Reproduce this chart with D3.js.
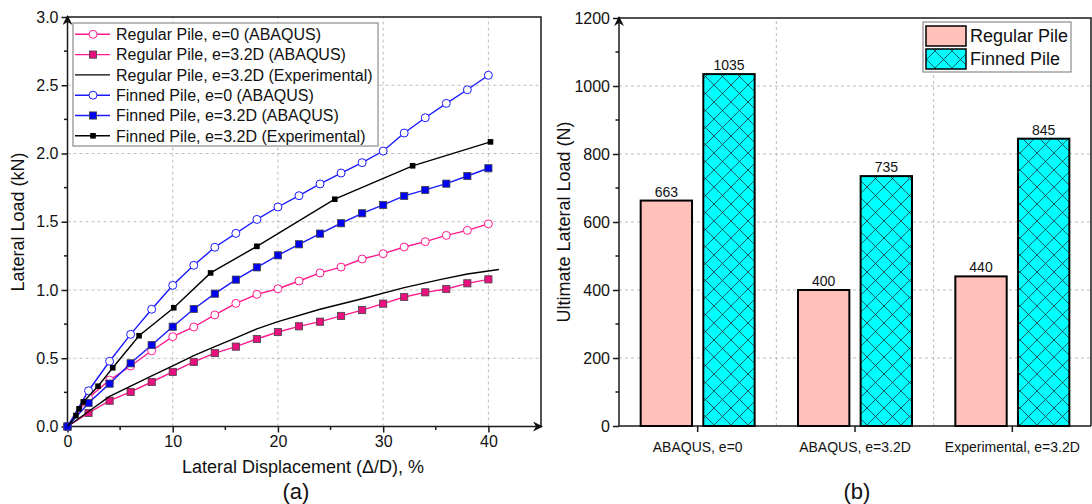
<!DOCTYPE html>
<html><head><meta charset="utf-8">
<script src="https://cdn.jsdelivr.net/npm/d3@7"></script>
<style>body{margin:0;background:#fff} svg{display:block;font-family:"Liberation Sans",Arial,sans-serif}</style>
</head><body><svg id="c" width="1092" height="504"></svg>
<script>
// ---------- data (a) ----------
const dispAbaqus = [0,2,4,6,8,10,12,14,16,18,20,22,24,26,28,30,32,34,36,38,40];
const regularE0 = [0,0.21,0.34,0.443,0.555,0.658,0.729,0.817,0.902,0.968,1.009,1.066,1.125,1.168,1.227,1.266,1.315,1.354,1.40,1.437,1.484];
const regularE32 = [0,0.099,0.189,0.253,0.326,0.40,0.473,0.538,0.585,0.641,0.692,0.734,0.768,0.81,0.853,0.90,0.949,0.983,1.007,1.049,1.078];
const regularExpDisp = [0,2,4,6,8,10,12,14,16,18,20,24,28,32,35.5,38,41];
const regularExpLoad = [0,0.11,0.22,0.295,0.37,0.445,0.52,0.585,0.65,0.715,0.768,0.859,0.936,1.017,1.078,1.117,1.15];
const finnedE0 = [0,0.262,0.478,0.675,0.859,1.034,1.181,1.313,1.415,1.517,1.608,1.691,1.777,1.857,1.933,2.018,2.150,2.262,2.367,2.467,2.573];
const finnedE32 = [0,0.172,0.314,0.463,0.597,0.731,0.861,0.973,1.076,1.166,1.254,1.335,1.413,1.489,1.562,1.623,1.689,1.733,1.779,1.835,1.892];
const finnedExpDisp = [0,0.8,1.1,1.5,2.9,4.3,6.8,10.1,13.6,18.0,25.4,32.8,40.2];
const finnedExpLoad = [0,0.08,0.13,0.18,0.295,0.43,0.665,0.87,1.125,1.32,1.665,1.91,2.085];
const xTicksA = [0,10,20,30,40];
const yTicksA = [0,0.5,1.0,1.5,2.0,2.5,3.0];
// ---------- data (b) ----------
const categories = ["ABAQUS, e=0","ABAQUS, e=3.2D","Experimental, e=3.2D"];
const regularUlt = [663,400,440];
const finnedUlt = [1035,735,845];
const yTicksB = [0,200,400,600,800,1000,1200];

const svg = d3.select("#c");
const defs = svg.append("defs");
const pat = defs.append("pattern").attr("id","xh").attr("patternUnits","userSpaceOnUse")
  .attr("width",17).attr("height",17);
pat.append("rect").attr("width",17).attr("height",17).attr("fill","#00ffff");
pat.append("path").attr("d","M0,0L17,17M17,0L0,17M-1,16L1,18M16,-1L18,1").attr("stroke","#222").attr("stroke-width",0.7);
defs.append("marker").attr("id","arr").attr("viewBox","0 0 10 10").attr("refX",9).attr("refY",5)
  .attr("markerWidth",10).attr("markerHeight",10).attr("markerUnits","userSpaceOnUse").attr("orient","auto")
  .append("path").attr("d","M0,0L10,5L0,10L3,5Z").attr("fill","#111");

const AX = "#1a1a1a";
function grid(g, x1,y1,x2,y2){ g.append("line").attr("x1",x1).attr("y1",y1).attr("x2",x2).attr("y2",y2)
  .attr("stroke","#bdbdbd").attr("stroke-dasharray","3,3").attr("stroke-width",1); }

// ================= (a) =================
const xA = d3.scaleLinear().domain([0,45]).range([67.5,541]);
const yA = d3.scaleLinear().domain([0,3]).range([426.5,17]);
const gA = svg.append("g");
xTicksA.slice(1).forEach(t=>grid(gA,xA(t),yA(0),xA(t),yA(3)));
yTicksA.slice(1,-1).forEach(t=>grid(gA,xA(0),yA(t),xA(45),yA(t)));
gA.append("path").attr("d",`M${xA(0)},${yA(3)}H${xA(45)}V${yA(0)}`).attr("fill","none").attr("stroke",AX).attr("stroke-width",1.5);
const axXA = d3.axisBottom(xA).tickValues(xTicksA).tickSize(6).tickPadding(3).tickFormat(d3.format("d"));
const gxA = gA.append("g").attr("transform",`translate(0,${yA(0)})`).call(axXA);
gxA.append("g").selectAll("line").data([5,15,25,35]).join("line").attr("x1",d=>xA(d)).attr("x2",d=>xA(d)).attr("y1",0).attr("y2",3.5).attr("stroke",AX).attr("stroke-width",1.5);
const axYA = d3.axisLeft(yA).tickValues(yTicksA).tickSize(6).tickPadding(3).tickFormat(d3.format(".1f"));
const gyA = gA.append("g").attr("transform",`translate(${xA(0)},0)`).call(axYA);
gyA.append("g").selectAll("line").data([0.25,0.75,1.25,1.75,2.25,2.75]).join("line").attr("y1",d=>yA(d)).attr("y2",d=>yA(d)).attr("x1",0).attr("x2",-3.5).attr("stroke",AX).attr("stroke-width",1.5);
[gxA,gyA].forEach(g=>{g.select(".domain").remove(); g.selectAll(".tick line").attr("stroke",AX).attr("stroke-width",1.5);
  g.selectAll("text").attr("font-size",16).attr("fill","#111").attr("font-family","Liberation Sans, Arial, sans-serif");});
gA.append("line").attr("x1",xA(0)).attr("y1",yA(0)).attr("x2",xA(45)+1).attr("y2",yA(0)).attr("stroke",AX).attr("stroke-width",1.5).attr("marker-end","url(#arr)");
gA.append("line").attr("x1",xA(0)).attr("y1",yA(0)).attr("x2",xA(0)).attr("y2",yA(3)-1).attr("stroke",AX).attr("stroke-width",1.5).attr("marker-end","url(#arr)");

const PINK="#ff1a8c", PINKF="#e8107e", BLUE="#1a1aff", BLUEF="#0000f0";
const series = [
  {name:"Regular Pile, e=0 (ABAQUS)", xs:dispAbaqus, ys:regularE0, color:PINK, mk:"circle"},
  {name:"Regular Pile, e=3.2D (ABAQUS)", xs:dispAbaqus, ys:regularE32, color:PINK, mk:"square", fill:PINKF},
  {name:"Regular Pile, e=3.2D (Experimental)", xs:regularExpDisp, ys:regularExpLoad, color:"#000", mk:null},
  {name:"Finned Pile, e=0 (ABAQUS)", xs:dispAbaqus, ys:finnedE0, color:BLUE, mk:"circle"},
  {name:"Finned Pile, e=3.2D (ABAQUS)", xs:dispAbaqus, ys:finnedE32, color:BLUE, mk:"square", fill:BLUEF},
  {name:"Finned Pile, e=3.2D (Experimental)", xs:finnedExpDisp, ys:finnedExpLoad, color:"#000", mk:"small", fill:"#000"}
];
const line = d3.line().x(d=>xA(d[0])).y(d=>yA(d[1]));
function drawMarker(g, s, cx, cy){
  if(s.mk==="circle") g.append("circle").attr("cx",cx).attr("cy",cy).attr("r",4).attr("fill","#fff").attr("stroke",s.color).attr("stroke-width",1);
  else if(s.mk==="square") g.append("rect").attr("x",cx-3.6).attr("y",cy-3.6).attr("width",7.2).attr("height",7.2).attr("fill",s.fill).attr("stroke","#444").attr("stroke-width",0.8);
  else if(s.mk==="small") g.append("rect").attr("x",cx-2.8).attr("y",cy-2.8).attr("width",5.6).attr("height",5.6).attr("fill","#000");
}
series.forEach(s=>{
  const pts = s.xs.map((x,i)=>[x,s.ys[i]]);
  const g = gA.append("g");
  g.append("path").datum(pts).attr("d",line).attr("fill","none").attr("stroke",s.color).attr("stroke-width",1.4);
  if(s.mk) pts.slice(s.mk==="small"?1:0).forEach(p=>drawMarker(g,s,xA(p[0]),yA(p[1])));
});
const lgA = svg.append("g");
lgA.append("rect").attr("x",73).attr("y",23).attr("width",305).attr("height",123).attr("fill","#fff").attr("stroke","#8a8a8a").attr("stroke-width",1.2);
series.forEach((s,i)=>{
  const cy = 34.3 + i*20.3;
  lgA.append("line").attr("x1",75).attr("x2",110).attr("y1",cy).attr("y2",cy).attr("stroke",s.color).attr("stroke-width",1.4);
  if(s.mk) drawMarker(lgA,s,93,cy);
  lgA.append("text").attr("x",116).attr("y",cy+5.8).attr("font-size",16).attr("fill","#111").text(s.name);
});
svg.append("text").attr("x",24).attr("y",222).attr("transform","rotate(-90,24,222)").attr("text-anchor","middle").attr("font-size",18).attr("fill","#111").text("Lateral Load (kN)");
svg.append("text").attr("x",303).attr("y",473).attr("text-anchor","middle").attr("font-size",18).attr("fill","#111").text("Lateral Displacement (\u0394/D), %");
svg.append("text").attr("x",296).attr("y",499).attr("text-anchor","middle").attr("font-size",22).attr("fill","#111").text("(a)");

// ================= (b) =================
const xB = d3.scaleBand().domain(categories).range([619,1091]);
const xIn = d3.scaleBand().domain(["Regular","Finned"]).range([-57,57]).paddingInner(0.18);
const yB = d3.scaleLinear().domain([0,1200]).range([426,18]);
const gB = svg.append("g");
[1,2].forEach(i=>grid(gB, xB.range()[0]+i*xB.step(), yB(0), xB.range()[0]+i*xB.step(), yB(1200)));
yTicksB.slice(1,-1).forEach(t=>grid(gB,619,yB(t),1091,yB(t)));
gB.append("path").attr("d",`M619,${yB(1200)}H1091V${yB(0)}`).attr("fill","none").attr("stroke",AX).attr("stroke-width",1.5);
const gxB = gB.append("g").attr("transform",`translate(0,${yB(0)})`).call(d3.axisBottom(xB).tickSize(6).tickPadding(10));
const gyB = gB.append("g").attr("transform","translate(619,0)").call(d3.axisLeft(yB).tickValues(yTicksB).tickSize(6).tickPadding(3).tickFormat(d3.format("d")));
gyB.append("g").selectAll("line").data([100,300,500,700,900,1100]).join("line").attr("y1",d=>yB(d)).attr("y2",d=>yB(d)).attr("x1",0).attr("x2",-3.5).attr("stroke",AX).attr("stroke-width",1.5);
[gxB,gyB].forEach(g=>{g.select(".domain").remove(); g.selectAll(".tick line").attr("stroke",AX).attr("stroke-width",1.5);
  g.selectAll("text").attr("fill","#111").attr("font-family","Liberation Sans, Arial, sans-serif");});
gyB.selectAll("text").attr("font-size",16);
gxB.selectAll("text").attr("font-size",14);
gB.append("line").attr("x1",619).attr("y1",yB(0)).attr("x2",1091).attr("y2",yB(0)).attr("stroke",AX).attr("stroke-width",1.5);
gB.append("line").attr("x1",619).attr("y1",yB(0)).attr("x2",619).attr("y2",yB(1200)-1).attr("stroke",AX).attr("stroke-width",1.5).attr("marker-end","url(#arr)");

const barData = [];
categories.forEach((c,i)=>{ barData.push({c,k:"Regular",v:regularUlt[i]}); barData.push({c,k:"Finned",v:finnedUlt[i]}); });
const bars = gB.append("g");
barData.forEach(d=>{
  const cx = xB(d.c)+xB.bandwidth()/2 + xIn(d.k);
  bars.append("rect").attr("x",cx).attr("y",yB(d.v)).attr("width",xIn.bandwidth()).attr("height",yB(0)-yB(d.v))
    .attr("fill",d.k==="Regular"?"#ffc1b9":"url(#xh)").attr("stroke","#000").attr("stroke-width",2);
  bars.append("text").attr("x",cx+xIn.bandwidth()/2).attr("y",yB(d.v)-4).attr("text-anchor","middle").attr("font-size",14).attr("fill","#111").text(d.v);
});
const lgB = svg.append("g");
lgB.append("rect").attr("x",923).attr("y",22).attr("width",148).attr("height",50).attr("fill","#fff").attr("stroke","#8a8a8a").attr("stroke-width",1.2);
[["Regular Pile","#ffc1b9"],["Finned Pile","url(#xh)"]].forEach((r,i)=>{
  const y0 = 26 + i*23;
  lgB.append("rect").attr("x",926).attr("y",y0).attr("width",40).attr("height",20).attr("fill",r[1]).attr("stroke","#000").attr("stroke-width",1.5);
  lgB.append("text").attr("x",970).attr("y",y0+16).attr("font-size",18).attr("fill","#111").text(r[0]);
});
svg.append("text").attr("x",570).attr("y",222).attr("transform","rotate(-90,570,222)").attr("text-anchor","middle").attr("font-size",18).attr("fill","#111").text("Ultimate Lateral Load (N)");
svg.append("text").attr("x",857).attr("y",499).attr("text-anchor","middle").attr("font-size",22).attr("fill","#111").text("(b)");
</script></body></html>
